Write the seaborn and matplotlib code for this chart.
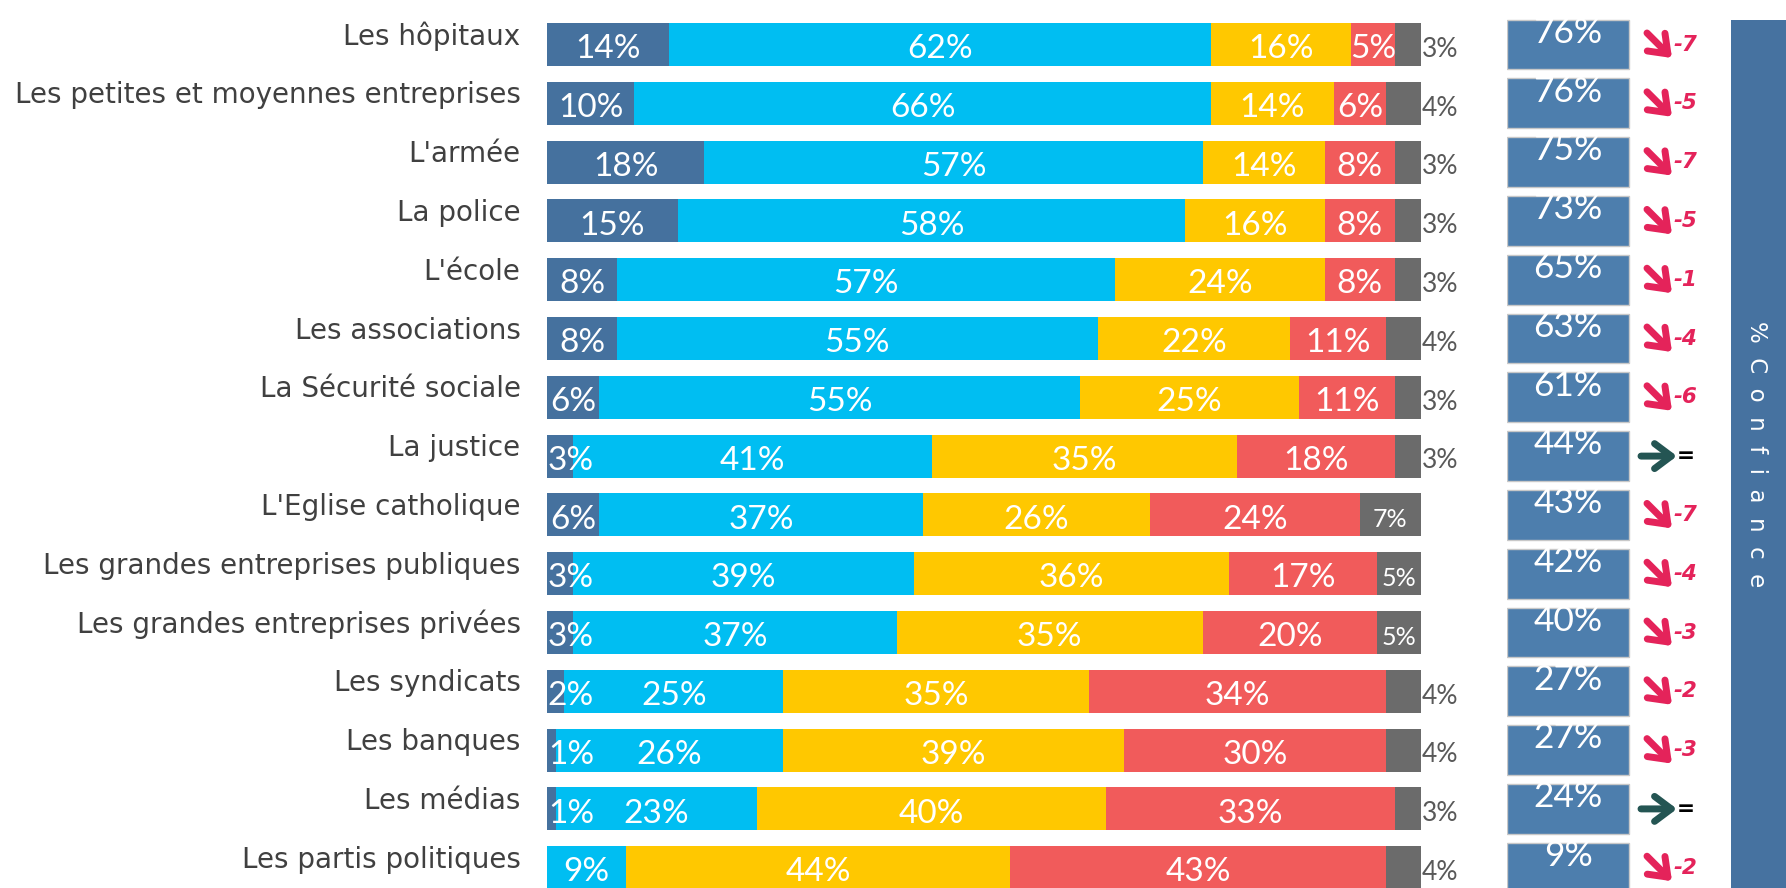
import matplotlib
matplotlib.use("Agg")
import matplotlib.pyplot as plt
from matplotlib.patches import Rectangle
import pandas as pd
import seaborn as sns

institutions = [
    "Les hôpitaux",
    "Les petites et moyennes entreprises",
    "L'armée",
    "La police",
    "L'école",
    "Les associations",
    "La Sécurité sociale",
    "La justice",
    "L'Eglise catholique",
    "Les grandes entreprises publiques",
    "Les grandes entreprises privées",
    "Les syndicats",
    "Les banques",
    "Les médias",
    "Les partis politiques",
]
tres_confiance = [14, 10, 18, 15, 8, 8, 6, 3, 6, 3, 3, 2, 1, 1, 0]
plutot_confiance = [62, 66, 57, 58, 57, 55, 55, 41, 37, 39, 37, 25, 26, 23, 9]
plutot_pas = [16, 14, 14, 16, 24, 22, 25, 35, 26, 36, 35, 35, 39, 40, 44]
pas_du_tout = [5, 6, 8, 8, 8, 11, 11, 18, 24, 17, 20, 34, 30, 33, 43]
nsp = [3, 4, 3, 3, 3, 4, 3, 3, 7, 5, 5, 4, 4, 3, 4]
confiance = [76, 76, 75, 73, 65, 63, 61, 44, 43, 42, 40, 27, 27, 24, 9]
evolution = ["-7", "-5", "-7", "-5", "-1", "-4", "-6", "=", "-7", "-4", "-3", "-2", "-3", "=", "-2"]

series = [tres_confiance, plutot_confiance, plutot_pas, pas_du_tout, nsp]
colors = ["#45719E", "#00BEF2", "#FFC800", "#F15B5B", "#6B6B6B"]

W, H = 1786, 888
PITCH, FIRST = 58.8, 44.5  # px between rows, px of first row centre
y_top, y_bot = -FIRST / PITCH, (H - FIRST) / PITCH
px = 1 / PITCH

sns.set_style("white")
fig = plt.figure(figsize=(W / 100, H / 100), dpi=100)

# stacked bars: draw cumulative totals from the longest down
df = pd.DataFrame({"institution": institutions})
cum = [0] * len(institutions)
for k, s in enumerate(series):
    cum = [a + b for a, b in zip(cum, s)]
    df[f"cum{k}"] = cum

ax = fig.add_axes([547 / W, 0, 874 / W, 1])
for k in reversed(range(len(series))):
    sns.barplot(data=df, x=f"cum{k}", y="institution", color=colors[k],
                saturation=1, width=0.73, linewidth=0, orient="h", ax=ax)
ax.set_xlim(0, 100)
ax.set_ylim(y_bot, y_top)
ax.set_xlabel("")
ax.set_ylabel("")
ax.set_xticks([])
sns.despine(ax=ax, left=True, bottom=True)
ax.tick_params(axis="y", length=0, pad=19, labelsize=20, labelcolor="#404040")
for t in ax.get_yticklabels():
    t.set_va("baseline")
    t.set_fontfamily("DejaVu Sans")

lab_font = "Lato"
dy = 0.08
for i in range(len(institutions)):
    left = 0
    for k, s in enumerate(series):
        v = s[i]
        if v == 0:
            continue
        mid = left + v / 2
        if k == 4:
            if v >= 5:
                ax.text(mid, i + dy, f"{v}%", ha="center", va="center", color="white",
                        fontsize=18, family=lab_font)
            else:
                ax.text(left + v + 0.1, i + dy, f"{v}%", ha="left", va="center",
                        color="#595959", fontsize=19, family=lab_font)
        elif k == 0 and v < 5:
            ax.text(0.1, i + dy, f"{v}%", ha="left", va="center", color="white",
                    fontsize=24, family=lab_font)
        else:
            ax.text(mid, i + dy, f"{v}%", ha="center", va="center", color="white",
                    fontsize=24, family=lab_font)
        left += v

# confidence boxes and evolution arrows (x in px from 1507)
cax = fig.add_axes([1507 / W, 0, 213 / W, 1])
cax.set_xlim(0, 213)
cax.set_ylim(y_bot, y_top)
cax.axis("off")
boxes = cax.barh(range(len(confiance)), 122, height=0.85, left=0,
                 color="#4D7EAD", edgecolor="#C8C8C8", linewidth=1)
for i, (c, box) in enumerate(zip(confiance, boxes)):
    t = cax.text(61, i - 0.03, f"{c}%", ha="center", va="baseline", color="white",
                 fontsize=25.5, family=lab_font)
    t.set_clip_path(box)

red, green = "#E4235A", "#245553"
head = "->,head_length=0.6,head_width=0.45"
for i, e in enumerate(evolution):
    if e == "=":
        cax.annotate("", xy=(170, i), xytext=(134, i),
                     arrowprops=dict(arrowstyle=head, lw=5, color=green, shrinkA=0,
                                     shrinkB=0, mutation_scale=20))
        cax.text(170, i, "=", ha="left", va="center", fontsize=15.5,
                 fontweight="bold", color="black", family="DejaVu Sans")
    else:
        cax.annotate("", xy=(165, i + 13.5 * px), xytext=(140, i - 11.5 * px),
                     arrowprops=dict(arrowstyle=head, lw=5, color=red, shrinkA=0,
                                     shrinkB=0, mutation_scale=20))
        cax.text(166, i, e, ha="left", va="center", fontsize=15.5, fontweight="bold",
                 fontstyle="italic", color=red, family="DejaVu Sans")

# right vertical band
fig.patches.append(Rectangle((1731 / W, 0), 55 / W, (H - 20) / H, transform=fig.transFigure,
                             facecolor="#4672A0", edgecolor="none", zorder=0))
fig.text(1756 / W, 1 - 454 / H, "%  C  o  n  f  i  a  n  c  e", rotation=270,
         ha="center", va="center", color="white", fontsize=16.5, family="DejaVu Sans")

fig.savefig("out.png", dpi=100, facecolor="white")
